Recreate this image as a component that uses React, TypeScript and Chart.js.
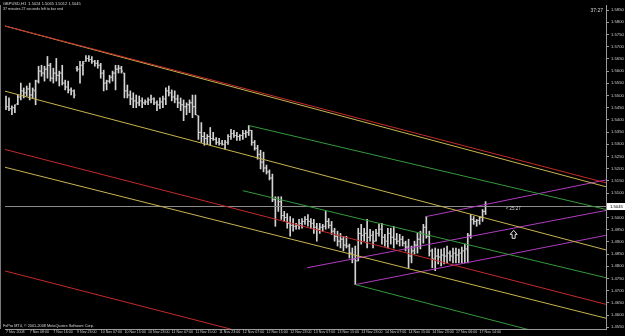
import React, { useEffect, useRef } from "react";
import { Chart, registerables } from "chart.js";

Chart.register(...registerables);

const symbolTitle = "GBPUSD,H1  1.5024 1.5065 1.5012 1.5045";
const countdownNote = "37 minutes 27 seconds left to bar end";
const copyright = "FxPro MT4, \u00A9 2001-2008 MetaQuotes Software Corp.";
const countdownCorner = "37:27";
const countdownTag = "< 25:27";

const timeLabels = [
  "7 Nov 2008", "7 Nov 08:00", "7 Nov 16:00", "9 Nov 23:00", "10 Nov 07:00",
  "10 Nov 15:00", "10 Nov 23:00", "11 Nov 07:00", "11 Nov 15:00", "11 Nov 23:00",
  "12 Nov 07:00", "12 Nov 15:00", "12 Nov 23:00", "13 Nov 07:00", "13 Nov 15:00",
  "13 Nov 23:00", "14 Nov 07:00", "14 Nov 15:00", "14 Nov 23:00", "17 Nov 06:00",
  "17 Nov 14:00",
];
const barsPerLabel = 8;

const opens = [
  1.5470, 1.5454, 1.5446, 1.5450, 1.5466, 1.5494, 1.5519, 1.5511, 1.5527, 1.5502,
  1.5519, 1.5559, 1.5600, 1.5592, 1.5608, 1.5624, 1.5571, 1.5592, 1.5583, 1.5592,
  1.5551, 1.5535, 1.5523, 1.5519, 1.5612, 1.5608, 1.5624, 1.5640, 1.5652, 1.5648,
  1.5640, 1.5632, 1.5624, 1.5592, 1.5551, 1.5559, 1.5575, 1.5592, 1.5608, 1.5612,
  1.5592, 1.5519, 1.5502, 1.5486, 1.5478, 1.5470, 1.5478, 1.5470, 1.5474, 1.5482,
  1.5486, 1.5470, 1.5462, 1.5474, 1.5486, 1.5519, 1.5511, 1.5494, 1.5486, 1.5470,
  1.5462, 1.5454, 1.5462, 1.5470, 1.5454, 1.5417, 1.5349, 1.5332, 1.5324, 1.5332,
  1.5324, 1.5320, 1.5308, 1.5304, 1.5300, 1.5308, 1.5332, 1.5344, 1.5336, 1.5332,
  1.5336, 1.5344, 1.5349, 1.5357, 1.5308, 1.5284, 1.5259, 1.5227, 1.5203, 1.5187,
  1.5162, 1.5073, 1.5045, 1.5065, 1.5008, 1.5000, 1.4976, 1.4968, 1.4964, 1.4968,
  1.4976, 1.4984, 1.4992, 1.4984, 1.4976, 1.4960, 1.4952, 1.4960, 1.4964, 1.4984,
  1.4968, 1.4944, 1.4923, 1.4903, 1.4911, 1.4887, 1.4883, 1.4854, 1.4830, 1.4822,
  1.4935, 1.4927, 1.4935, 1.4919, 1.4927, 1.4903, 1.4935, 1.4952, 1.4919, 1.4903,
  1.4935, 1.4919, 1.4911, 1.4903, 1.4911, 1.4895, 1.4879, 1.4842, 1.4863, 1.4887,
  1.4911, 1.4935, 1.4960, 1.4923, 1.4863, 1.4830, 1.4842, 1.4838, 1.4846, 1.4842,
  1.4854, 1.4842, 1.4854, 1.4846, 1.4854, 1.4863, 1.4871, 1.4927, 1.4992, 1.4984,
  1.4988, 1.5000, 1.5025,
];
const highs = [
  1.5498, 1.5490, 1.5458, 1.5462, 1.5502, 1.5551, 1.5531, 1.5539, 1.5551, 1.5531,
  1.5563, 1.5620, 1.5624, 1.5620, 1.5660, 1.5632, 1.5612, 1.5652, 1.5600, 1.5624,
  1.5563, 1.5559, 1.5531, 1.5523, 1.5620, 1.5640, 1.5640, 1.5664, 1.5664, 1.5660,
  1.5644, 1.5644, 1.5632, 1.5604, 1.5563, 1.5583, 1.5600, 1.5624, 1.5624, 1.5620,
  1.5592, 1.5543, 1.5519, 1.5511, 1.5502, 1.5498, 1.5490, 1.5482, 1.5490, 1.5502,
  1.5490, 1.5478, 1.5490, 1.5498, 1.5531, 1.5539, 1.5523, 1.5519, 1.5502, 1.5490,
  1.5482, 1.5470, 1.5482, 1.5502, 1.5502, 1.5417, 1.5389, 1.5349, 1.5340, 1.5369,
  1.5349, 1.5328, 1.5324, 1.5316, 1.5316, 1.5340, 1.5361, 1.5357, 1.5349, 1.5340,
  1.5357, 1.5357, 1.5377, 1.5357, 1.5316, 1.5296, 1.5276, 1.5268, 1.5215, 1.5195,
  1.5178, 1.5085, 1.5085, 1.5085, 1.5025, 1.5016, 1.5004, 1.4996, 1.4976, 1.4992,
  1.4996, 1.5004, 1.5012, 1.4996, 1.4992, 1.4976, 1.4976, 1.4972, 1.5025, 1.4996,
  1.4984, 1.4956, 1.4944, 1.4935, 1.4923, 1.4923, 1.4891, 1.4875, 1.4883, 1.4956,
  1.4972, 1.4956, 1.4992, 1.4952, 1.4944, 1.4952, 1.4972, 1.4976, 1.4931, 1.4956,
  1.4956, 1.4964, 1.4935, 1.4931, 1.4923, 1.4903, 1.4911, 1.4883, 1.4903, 1.4935,
  1.4944, 1.4972, 1.5004, 1.4944, 1.4871, 1.4875, 1.4871, 1.4871, 1.4875, 1.4883,
  1.4863, 1.4875, 1.4875, 1.4871, 1.4879, 1.4891, 1.4935, 1.5012, 1.5004, 1.4992,
  1.5004, 1.5033, 1.5065,
];
const lows = [
  1.5442, 1.5438, 1.5421, 1.5430, 1.5462, 1.5482, 1.5490, 1.5498, 1.5482, 1.5490,
  1.5462, 1.5551, 1.5579, 1.5559, 1.5571, 1.5559, 1.5551, 1.5559, 1.5539, 1.5543,
  1.5523, 1.5511, 1.5502, 1.5490, 1.5600, 1.5551, 1.5583, 1.5640, 1.5640, 1.5632,
  1.5620, 1.5612, 1.5571, 1.5519, 1.5523, 1.5551, 1.5559, 1.5523, 1.5592, 1.5592,
  1.5490, 1.5490, 1.5462, 1.5450, 1.5450, 1.5458, 1.5450, 1.5462, 1.5462, 1.5470,
  1.5462, 1.5438, 1.5446, 1.5450, 1.5462, 1.5498, 1.5478, 1.5470, 1.5450, 1.5438,
  1.5397, 1.5421, 1.5430, 1.5409, 1.5421, 1.5320, 1.5308, 1.5296, 1.5300, 1.5296,
  1.5316, 1.5300, 1.5296, 1.5296, 1.5280, 1.5300, 1.5320, 1.5328, 1.5316, 1.5316,
  1.5320, 1.5328, 1.5336, 1.5296, 1.5276, 1.5239, 1.5199, 1.5187, 1.5178, 1.5154,
  1.5065, 1.4964, 1.5025, 1.4992, 1.4984, 1.4956, 1.4923, 1.4944, 1.4952, 1.4952,
  1.4956, 1.4972, 1.4964, 1.4956, 1.4935, 1.4903, 1.4935, 1.4944, 1.4952, 1.4956,
  1.4931, 1.4903, 1.4883, 1.4875, 1.4863, 1.4875, 1.4834, 1.4814, 1.4725, 1.4822,
  1.4891, 1.4903, 1.4875, 1.4903, 1.4875, 1.4903, 1.4923, 1.4891, 1.4883, 1.4875,
  1.4891, 1.4875, 1.4891, 1.4883, 1.4883, 1.4863, 1.4794, 1.4814, 1.4850, 1.4854,
  1.4871, 1.4895, 1.4915, 1.4842, 1.4794, 1.4782, 1.4810, 1.4802, 1.4810, 1.4814,
  1.4822, 1.4814, 1.4814, 1.4814, 1.4814, 1.4814, 1.4814, 1.4915, 1.4972, 1.4964,
  1.4972, 1.4984, 1.5012,
];
const closes = [
  1.5454, 1.5446, 1.5450, 1.5462, 1.5494, 1.5519, 1.5511, 1.5527, 1.5502, 1.5523,
  1.5559, 1.5600, 1.5592, 1.5608, 1.5624, 1.5571, 1.5592, 1.5583, 1.5592, 1.5551,
  1.5535, 1.5523, 1.5519, 1.5502, 1.5608, 1.5624, 1.5632, 1.5652, 1.5648, 1.5640,
  1.5632, 1.5624, 1.5592, 1.5551, 1.5559, 1.5575, 1.5592, 1.5608, 1.5612, 1.5600,
  1.5519, 1.5502, 1.5486, 1.5478, 1.5470, 1.5478, 1.5470, 1.5474, 1.5482, 1.5486,
  1.5470, 1.5462, 1.5474, 1.5486, 1.5519, 1.5511, 1.5494, 1.5486, 1.5470, 1.5462,
  1.5454, 1.5462, 1.5470, 1.5454, 1.5421, 1.5349, 1.5332, 1.5324, 1.5332, 1.5324,
  1.5320, 1.5308, 1.5304, 1.5300, 1.5308, 1.5332, 1.5344, 1.5336, 1.5332, 1.5336,
  1.5344, 1.5349, 1.5357, 1.5308, 1.5284, 1.5259, 1.5227, 1.5203, 1.5187, 1.5162,
  1.5073, 1.5045, 1.5065, 1.5008, 1.5000, 1.4976, 1.4968, 1.4964, 1.4968, 1.4976,
  1.4984, 1.4992, 1.4984, 1.4976, 1.4960, 1.4952, 1.4960, 1.4964, 1.4984, 1.4968,
  1.4944, 1.4923, 1.4903, 1.4911, 1.4887, 1.4883, 1.4854, 1.4830, 1.4822, 1.4935,
  1.4927, 1.4935, 1.4919, 1.4927, 1.4903, 1.4935, 1.4952, 1.4919, 1.4903, 1.4935,
  1.4919, 1.4911, 1.4903, 1.4911, 1.4895, 1.4879, 1.4842, 1.4863, 1.4887, 1.4911,
  1.4935, 1.4960, 1.4923, 1.4863, 1.4830, 1.4842, 1.4838, 1.4846, 1.4842, 1.4854,
  1.4842, 1.4854, 1.4846, 1.4854, 1.4863, 1.4871, 1.4927, 1.4992, 1.4984, 1.4988,
  1.5000, 1.5025, 1.5045,
];

// trend lines: [barFrom, priceFrom, barTo, priceTo]
const redLines = [
  [-0.67, 1.5786, 202.7, 1.5142],
  [-0.67, 1.528, 202.7, 1.4644],
  [-0.67, 1.4782, 202.7, 1.4146],
];
const yellowLines = [
  [-0.67, 1.5786, 202.7, 1.5126],
  [-0.67, 1.5519, 202.7, 1.4867],
  [-0.67, 1.5207, 202.7, 1.4587],
];
const greenLines = [
  [82, 1.5377, 202.7, 1.5033],
  [80, 1.511, 202.7, 1.4753],
  [118, 1.4725, 202.7, 1.4458],
];
const magentaLines = [
  [142, 1.5004, 202.7, 1.5154],
  [101.7, 1.4794, 202.7, 1.5029],
  [118, 1.4725, 202.7, 1.4927],
];
const arrowMark = [171.5, 1.4931];

const xRange = [-0.34, 202.7];
const yRange = [1.4543, 1.5871];
const priceStep = 0.005;

export default function App() {
  const ref = useRef<HTMLCanvasElement>(null);

  useEffect(() => {
    document.body.style.margin = "0";
    document.body.style.background = "#000";
    const canvas = ref.current;
    if (!canvas) return;

    const lastIdx = closes.length - 1;
    const last = closes[lastIdx];
    const barColor = "#d4d4d4";
    const smallFont = '"Liberation Sans", Arial, sans-serif';

    const lineSet = (arr: number[][], color: string) =>
      arr.map(([x1, p1, x2, p2]) => ({
        type: "line" as const,
        data: [
          { x: x1, y: p1 },
          { x: x2, y: p2 },
        ],
        borderColor: color,
        borderWidth: 1,
        pointRadius: 0,
        fill: false,
        order: 0,
      }));

    const datasets: any[] = [
      {
        type: "bar",
        data: highs.map((h, i) => ({ x: i, y: [lows[i], h] })),
        backgroundColor: barColor,
        borderWidth: 0,
        barThickness: 1,
        order: 2,
      },
      {
        type: "line",
        data: opens.map((o, i) => ({ x: i - 0.34, y: o })),
        showLine: false,
        pointStyle: "line",
        pointRadius: 0.5,
        pointBorderWidth: 1,
        pointBorderColor: barColor,
        order: 2,
      },
      {
        type: "line",
        data: closes.map((c, i) => ({ x: i + 0.34, y: c })),
        showLine: false,
        pointStyle: "line",
        pointRadius: 0.5,
        pointBorderWidth: 1,
        pointBorderColor: barColor,
        order: 2,
      },
      {
        type: "line",
        data: [
          { x: xRange[0] - 1, y: last },
          { x: xRange[1] + 1, y: last },
        ],
        borderColor: "#8c8c8c",
        borderWidth: 1,
        pointRadius: 0,
        order: 1,
      },
      ...lineSet(redLines, "#c42a2a"),
      ...lineSet(yellowLines, "#c8b44e"),
      ...lineSet(greenLines, "#35983a"),
      ...lineSet(magentaLines, "#b03cc0"),
    ];

    const overlay = {
      id: "mt4overlay",
      afterDraw(chart: any) {
        const { ctx, chartArea } = chart;
        const xs = chart.scales.x;
        const ys = chart.scales.y;
        ctx.save();
        ctx.strokeStyle = "#7a7a7a";
        ctx.lineWidth = 1;
        ctx.beginPath();
        ctx.moveTo(0.5, chartArea.top);
        ctx.lineTo(0.5, chartArea.bottom);
        ctx.stroke();

        ctx.fillStyle = "#d8d8d8";
        ctx.textAlign = "left";
        ctx.textBaseline = "middle";
        ctx.font = `4px ${smallFont}`;
        ctx.fillText(symbolTitle, 3, 4);
        ctx.font = `3.6px ${smallFont}`;
        ctx.fillText(countdownNote, 3, 8.5);
        ctx.font = `3.8px ${smallFont}`;
        ctx.fillText(copyright, 3, chartArea.bottom - 3.5);

        ctx.font = `5px ${smallFont}`;
        ctx.textAlign = "right";
        ctx.fillText(countdownCorner, chartArea.right - 3, 11);

        const py = ys.getPixelForValue(last);
        ctx.textAlign = "left";
        ctx.font = `4.5px ${smallFont}`;
        ctx.fillText(countdownTag, xs.getPixelForValue(lastIdx + 6.8), py + 2.5);

        const ax = xs.getPixelForValue(arrowMark[0]);
        const ay = ys.getPixelForValue(arrowMark[1]);
        ctx.strokeStyle = "#e8e8e8";
        ctx.beginPath();
        ctx.moveTo(ax, ay - 4);
        ctx.lineTo(ax + 3.5, ay);
        ctx.lineTo(ax + 1.5, ay);
        ctx.lineTo(ax + 1.5, ay + 4);
        ctx.lineTo(ax - 1.5, ay + 4);
        ctx.lineTo(ax - 1.5, ay);
        ctx.lineTo(ax - 3.5, ay);
        ctx.closePath();
        ctx.stroke();

        ctx.fillStyle = "#ffffff";
        ctx.fillRect(chartArea.right + 1, py - 3.5, 18, 7);
        ctx.fillStyle = "#000000";
        ctx.font = `4.2px ${smallFont}`;
        ctx.textBaseline = "middle";
        ctx.fillText(last.toFixed(4), chartArea.right + 4, py);
        ctx.restore();
      },
    };

    const chart = new Chart(canvas, {
      type: "bar",
      data: { datasets },
      options: {
        responsive: false,
        animation: false,
        events: [],
        layout: { padding: { left: 1, top: 1, right: 0, bottom: 0 } },
        plugins: { legend: { display: false }, tooltip: { enabled: false } },
        scales: {
          x: {
            type: "linear",
            min: xRange[0],
            max: xRange[1],
            offset: false,
            grid: {
              display: true,
              drawOnChartArea: false,
              drawTicks: true,
              tickLength: 1,
              color: "#9a9a9a",
              offset: false,
            },
            border: { display: true, color: "#9a9a9a" },
            afterBuildTicks: (s: any) => {
              s.ticks = timeLabels.map((_, k) => ({ value: k * barsPerLabel }));
            },
            afterFit: (s: any) => {
              s.height = 7;
              s.paddingLeft = 0;
              s.paddingRight = 0;
            },
            ticks: {
              autoSkip: false,
              maxRotation: 0,
              minRotation: 0,
              align: "start",
              padding: 0,
              color: "#d0d0d0",
              font: { size: 3.6, family: smallFont },
              callback: (v: any) => timeLabels[Math.round(Number(v) / barsPerLabel)] ?? "",
            },
          },
          y: {
            type: "linear",
            position: "right",
            min: yRange[0],
            max: yRange[1],
            beginAtZero: false,
            grid: {
              drawOnChartArea: false,
              drawTicks: true,
              tickLength: 3,
              color: "#9a9a9a",
            },
            border: { display: true, color: "#9a9a9a" },
            afterFit: (s: any) => {
              s.width = 19;
              s.paddingTop = 0;
              s.paddingBottom = 0;
            },
            ticks: {
              stepSize: priceStep,
              includeBounds: false,
              padding: 2,
              color: "#d0d0d0",
              font: { size: 4.2, family: smallFont },
              callback: (v: any) => Number(v).toFixed(4),
            },
          },
        },
      } as any,
      plugins: [overlay],
    });

    return () => chart.destroy();
  }, []);

  return (
    <canvas
      ref={ref}
      width={625}
      height={336}
      style={{ display: "block", width: 625, height: 336, background: "#000" }}
    />
  );
}
